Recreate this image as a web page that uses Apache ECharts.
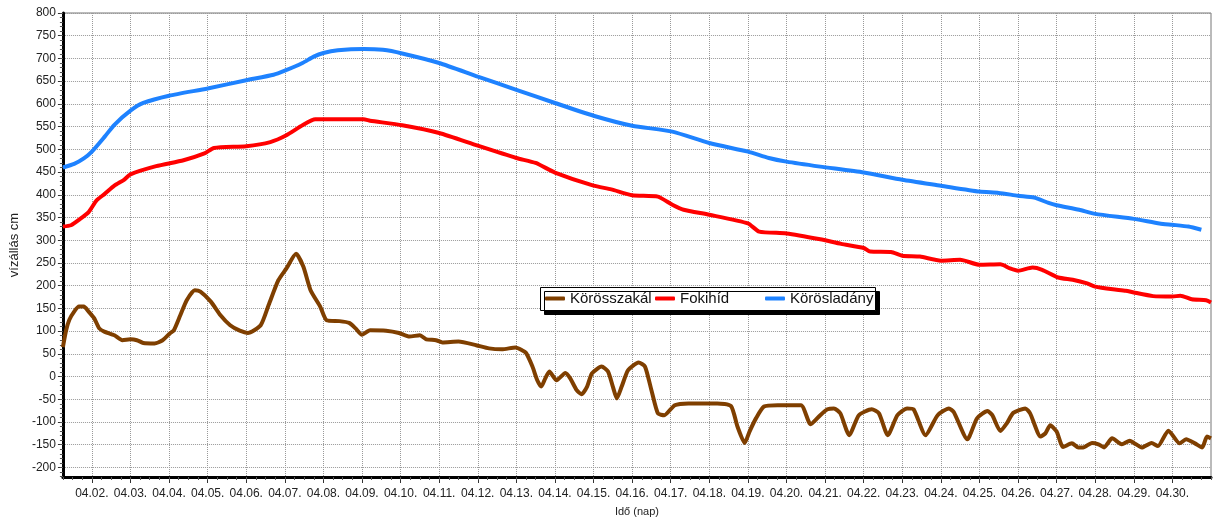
<!DOCTYPE html>
<html>
<head>
<meta charset="utf-8">
<script src="https://cdn.jsdelivr.net/npm/echarts@6.0.0/dist/echarts.min.js"></script>
<style>
html, body { margin: 0; padding: 0; background: #fff; }
#chart { width: 1220px; height: 522px; }
</style>
</head>
<body>
<div id="chart"></div>
<script>
// time is in hours counted from 04.01. 00:00
var seriesNames = ['Körösszakál', 'Fokihíd', 'Körösladány'];

var dayHours = [24, 48, 72, 96, 120, 144, 168, 192, 216, 240, 264, 288, 312, 336, 360,
  384, 408, 432, 456, 480, 504, 528, 552, 576, 600, 624, 648, 672, 696];
var dayLabels = ['04.02.', '04.03.', '04.04.', '04.05.', '04.06.', '04.07.', '04.08.', '04.09.', '04.10.',
  '04.11.', '04.12.', '04.13.', '04.14.', '04.15.', '04.16.', '04.17.', '04.18.', '04.19.', '04.20.',
  '04.21.', '04.22.', '04.23.', '04.24.', '04.25.', '04.26.', '04.27.', '04.28.', '04.29.', '04.30.'];
var yTicks = [-200, -150, -100, -50, 0, 50, 100, 150, 200, 250, 300, 350, 400, 450, 500, 550, 600, 650, 700, 750, 800];

// Körösszakál
var kszHours = [6, 8, 10, 13, 16, 19, 22, 25.5, 28.6, 31.7,
  38, 43, 48, 52, 56, 63, 68, 72.5, 75, 79,
  83, 88, 91.5, 98, 104, 110, 116, 121, 129, 134,
  140, 145, 151, 155.5, 160, 166, 170, 178, 184, 188,
  192, 197, 207, 215, 221.5, 228, 232, 238, 242, 252,
  263, 271, 279, 287.5, 291.5, 294, 298, 301, 303.5, 306,
  308.5, 313, 318.5, 321.5, 325.5, 328.5, 332, 335, 341, 345,
  348, 350.5, 353.5, 357.5, 364, 368, 372, 376, 380, 386.5,
  395, 413, 421.5, 425.5, 430, 433, 437, 442, 450.5, 465,
  471, 477, 481.5, 485.5, 489.5, 495, 501, 509, 513.5, 519,
  525, 531, 535, 542.5, 550, 557, 560, 568.5, 574.5, 581,
  584, 589, 593, 597, 604.5, 607.5, 614, 617, 620, 624,
  628, 633.5, 637.5, 640.5, 646, 650, 653.5, 658.5, 664.5, 669.5,
  672, 677, 683, 687, 693.5, 700.5, 704.5, 710, 714.5, 717.5,
  720];
var kszValues = [65, 102, 125, 143, 154, 154, 143, 128, 106, 99,
  91, 80, 82, 80, 74, 73, 80, 95, 102, 135,
  168, 190, 187, 165, 135, 113, 101, 96, 113, 158,
  212, 238, 270, 242, 190, 154, 124, 122, 118, 106,
  92, 102, 101, 96, 88, 91, 82, 80, 75, 77,
  69, 62, 60, 64, 58, 52, 22, -8, -22, -4,
  11, -8, 8, -4, -30, -39, -22, 7, 22, 11,
  -22, -48, -22, 14, 31, 22, -30, -81, -85, -63,
  -59, -59, -65, -110, -146, -121, -92, -66, -63, -63,
  -105, -85, -72, -70, -81, -129, -85, -72, -81, -129,
  -85, -70, -72, -129, -85, -70, -78, -138, -92, -76,
  -85, -120, -103, -80, -70, -81, -132, -125, -107, -121,
  -155, -147, -156, -156, -146, -149, -156, -136, -149, -141,
  -146, -156, -146, -153, -119, -147, -138, -147, -156, -132,
  -136];

// Fokihíd
var fokHours = [6, 11, 16, 22, 27, 32, 38, 44, 48, 64,
  81, 94, 100, 120, 135, 145, 155, 163, 193, 197,
  217, 240, 264, 288, 300, 312, 336, 347, 360, 376,
  385, 392, 408, 432, 439, 456, 477, 490, 504, 508,
  521, 528, 539, 552, 564, 576, 589, 595, 600, 609,
  615, 625, 634, 643, 648, 659, 667, 672, 684, 696,
  701, 708, 717, 720];
var fokValues = [330, 333, 345, 362, 388, 402, 420, 433, 445, 463,
  476, 491, 503, 507, 516, 531, 553, 566, 566, 563,
  553, 536, 508, 481, 470, 449, 420, 412, 399, 396,
  378, 367, 356, 337, 319, 315, 302, 292, 283, 275,
  274, 266, 264, 255, 257, 246, 247, 238, 233, 240,
  235, 218, 213, 205, 198, 192, 189, 185, 177, 176,
  178, 170, 168, 163];

// Körösladány
var kslHours = [6, 13, 19, 24, 32, 38, 48, 56, 72, 96,
  120, 137, 144, 155, 162, 168, 177, 193, 205, 217,
  240, 264, 288, 312, 336, 360, 385, 408, 432, 445,
  456, 477, 504, 528, 552, 576, 588, 600, 610, 619,
  624, 638, 648, 672, 688, 696, 706, 714];
var kslValues = [460, 468, 480, 495, 528, 554, 585, 602, 618, 634,
  652, 664, 673, 690, 704, 712, 718, 721, 719, 711,
  690, 660, 631, 602, 574, 552, 539, 514, 495, 481,
  473, 462, 449, 433, 420, 407, 404, 398, 394, 382,
  377, 367, 358, 347, 337, 334, 330, 323];

var colors = ['#7f3f00', '#ff0000', '#1e82ff'];
var FONT = '"Liberation Sans", Arial, Helvetica, sans-serif';
var xMin = 6, xMax = 720, yMin = -221, yMax = 800;

// minor ticks: every 6 hours and every 10 cm
var xMinor = [];
for (var h = xMin; h <= xMax; h += 6) xMinor.push(h);
var yMinor = [];
for (var v = -220; v <= yMax; v += 10) yMinor.push(v);

function pairs(xs, ys) {
  return xs.map(function (x, i) { return [x, ys[i]]; });
}

// one legend per item so every entry gets the same fixed slot, like the original
function legendItem(name, left) {
  return {
    data: [name], left: left, top: 291, padding: 0, z: 6,
    itemWidth: 20, itemHeight: 4, icon: 'roundRect',
    textStyle: { fontFamily: FONT, fontSize: 15, color: '#111' }
  };
}

var chart = echarts.init(document.getElementById('chart'));

var option = {
  animation: false,
  textStyle: { fontFamily: FONT },
  color: colors,
  grid: {
    left: 59, right: 9, top: 13, bottom: 45,
    show: true, borderColor: '#777', borderWidth: 1
  },
  graphic: [{
    type: 'rect', left: 540, top: 287, z: 5,
    shape: { width: 335, height: 23 },
    style: { fill: '#fff', stroke: '#000', lineWidth: 1, shadowColor: '#000', shadowBlur: 0, shadowOffsetX: 4, shadowOffsetY: 4 }
  }],
  legend: [legendItem(seriesNames[0], 545), legendItem(seriesNames[1], 655), legendItem(seriesNames[2], 765)],
  xAxis: [{
    type: 'value', min: xMin, max: xMax,
    name: 'Idő (nap)', nameLocation: 'middle', nameGap: 29,
    nameTextStyle: { fontSize: 11, color: '#222' },
    axisLine: { show: true, onZero: false, lineStyle: { color: '#000', width: 3 } },
    axisTick: { show: true, customValues: dayHours, length: 6, lineStyle: { color: '#333' } },
    axisLabel: {
      customValues: dayHours, fontSize: 12, color: '#222', margin: 11,
      formatter: function (val) { return dayLabels[dayHours.indexOf(val)]; }
    },
    splitLine: { show: true, lineStyle: { type: 'dotted', color: '#999' } }
  }, {
    type: 'value', min: xMin, max: xMax, position: 'bottom',
    axisLine: { show: false, onZero: false },
    axisTick: { show: true, customValues: xMinor, length: 3, lineStyle: { color: '#555' } },
    axisLabel: { show: false },
    splitLine: { show: false }
  }],
  yAxis: [{
    type: 'value', min: yMin, max: yMax,
    name: 'vízállás cm', nameLocation: 'middle', nameGap: 36, nameRotate: 90,
    nameTextStyle: { fontSize: 13, color: '#222' },
    axisLine: { show: true, onZero: false, lineStyle: { color: '#000', width: 3 } },
    axisTick: { show: true, customValues: yTicks, length: 5, lineStyle: { color: '#333' } },
    axisLabel: { customValues: yTicks, fontSize: 12, color: '#222', margin: 7 },
    splitLine: { show: true, lineStyle: { type: 'dotted', color: '#999' } }
  }, {
    type: 'value', min: yMin, max: yMax, position: 'left',
    axisLine: { show: false, onZero: false },
    axisTick: { show: true, customValues: yMinor, length: 3, lineStyle: { color: '#555' } },
    axisLabel: { show: false },
    splitLine: { show: false }
  }],
  series: [{
    name: seriesNames[0], type: 'line', showSymbol: false, smooth: 0.2,
    lineStyle: { width: 4 }, data: pairs(kszHours, kszValues)
  }, {
    name: seriesNames[1], type: 'line', showSymbol: false, smooth: 0.2,
    lineStyle: { width: 4 }, data: pairs(fokHours, fokValues)
  }, {
    name: seriesNames[2], type: 'line', showSymbol: false, smooth: 0.2,
    lineStyle: { width: 4 }, data: pairs(kslHours, kslValues)
  }]
};

chart.setOption(option);
</script>
</body>
</html>
